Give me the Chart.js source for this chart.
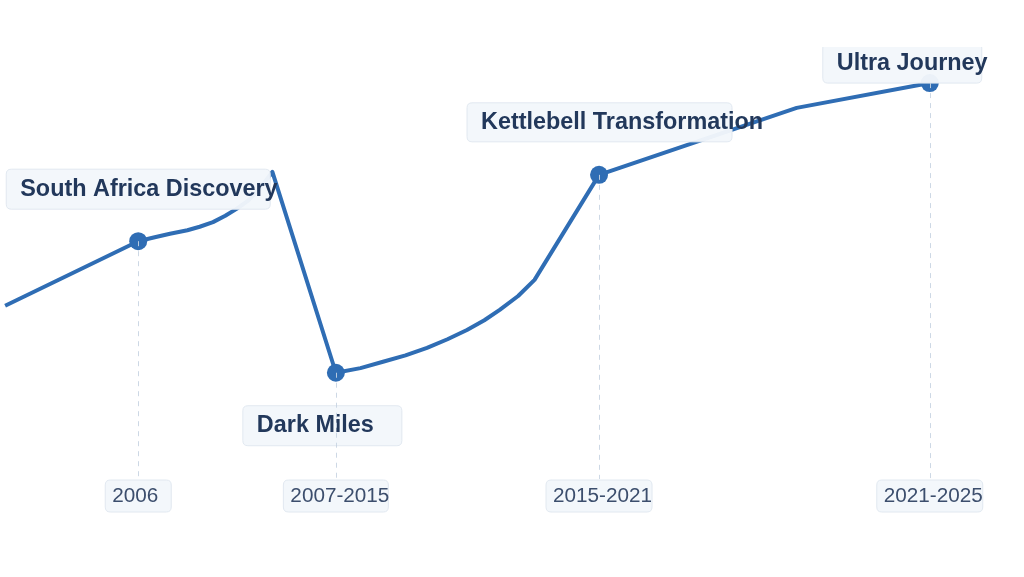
<!DOCTYPE html>
<html>
<head>
<meta charset="utf-8">
<script src="https://cdn.jsdelivr.net/npm/chart.js@4"></script>
<style>
  html, body { margin: 0; padding: 0; background: #ffffff; }
  #wrap { width: 1024px; height: 577px; }
</style>
</head>
<body>
<div id="wrap"><canvas id="journeyChart"></canvas></div>
<script>
// journey line (x: position along timeline 0-100, y: progress 0-100)
const lineX = [0.5, 13.5, 14.9, 16.6, 18.3, 19.5, 20.8, 22.0, 23.1, 24.2, 25.4, 26.6,
               32.8, 35.2, 37.4, 39.6, 41.7, 43.7, 45.6, 47.3, 48.8, 50.6, 52.2, 58.5, 77.8, 90.8];
const lineY = [47.0, 58.2, 58.8, 59.5, 60.1, 60.7, 61.5, 62.6, 63.8, 65.2, 67.4, 70.2,
               35.4, 36.2, 37.3, 38.4, 39.7, 41.2, 42.8, 44.5, 46.3, 48.7, 51.5, 69.7, 81.3, 85.6];

// milestones
const milestoneX = [13.5, 32.8, 58.5, 90.8];
const milestoneY = [58.2, 35.4, 69.7, 85.6];
const milestoneNames = ['South Africa Discovery', 'Dark Miles', 'Kettlebell Transformation', 'Ultra Journey'];
const periodLabels = ['2006', '2007-2015', '2015-2021', '2021-2025'];

// label box layout relative to marker (px)
const nameBoxes = [
    { dx: -132, dy: -72, w: 264, h: 40 },
    { dx: -93, dy: 33, w: 159, h: 40 },
    { dx: -132, dy: -72, w: 265, h: 39 },
    { dx: -107, dy: -40, w: 159, h: 40 }
];
const periodBoxW = [66, 105, 106, 106];

function roundBox(ctx, x, y, w, h, r) {
    ctx.beginPath();
    ctx.moveTo(x + r, y);
    ctx.lineTo(x + w - r, y);
    ctx.quadraticCurveTo(x + w, y, x + w, y + r);
    ctx.lineTo(x + w, y + h - r);
    ctx.quadraticCurveTo(x + w, y + h, x + w - r, y + h);
    ctx.lineTo(x + r, y + h);
    ctx.quadraticCurveTo(x, y + h, x, y + h - r);
    ctx.lineTo(x, y + r);
    ctx.quadraticCurveTo(x, y, x + r, y);
    ctx.closePath();
}

const timelineLabels = {
    id: 'timelineLabels',
    afterDatasetsDraw(chart) {
        const ctx = chart.ctx;
        const xs = chart.scales.x, ys = chart.scales.y;
        ctx.save();
        ctx.beginPath();
        ctx.rect(0, 47, chart.width, chart.height - 47);
        ctx.clip();

        // milestone name boxes
        milestoneNames.forEach((name, i) => {
            const mx = xs.getPixelForValue(milestoneX[i]);
            const my = ys.getPixelForValue(milestoneY[i]);
            const b = nameBoxes[i];
            const bx = mx + b.dx, by = my + b.dy;
            roundBox(ctx, bx, by, b.w, b.h, 5);
            ctx.fillStyle = 'rgba(243,247,251,0.96)';
            ctx.fill();
            ctx.strokeStyle = '#e1e8f0';
            ctx.lineWidth = 1;
            ctx.stroke();
            ctx.fillStyle = '#22385b';
            ctx.font = 'bold 23.4px "Liberation Sans", Arial, sans-serif';
            ctx.textBaseline = 'middle';
            ctx.textAlign = 'left';
            ctx.fillText(name, bx + 14, by + b.h / 2);
        });

        // period boxes on the timeline
        periodLabels.forEach((lab, i) => {
            const mx = xs.getPixelForValue(milestoneX[i]);
            const w = periodBoxW[i];
            const bx = mx - w / 2, by = 480;
            roundBox(ctx, bx, by, w, 32, 5);
            ctx.fillStyle = '#f3f7fb';
            ctx.fill();
            ctx.strokeStyle = '#e1e8f0';
            ctx.lineWidth = 1;
            ctx.stroke();
            ctx.fillStyle = '#3c4e6d';
            ctx.font = '20.7px "Liberation Sans", Arial, sans-serif';
            ctx.textBaseline = 'middle';
            ctx.textAlign = 'left';
            ctx.fillText(lab, bx + 7, by + 16);
        });

        // dashed guides from marker down to the period box
        ctx.setLineDash([5, 5]);
        ctx.strokeStyle = 'rgba(200,212,226,0.9)';
        ctx.lineWidth = 1;
        milestoneX.forEach((v, i) => {
            const mx = Math.round(xs.getPixelForValue(v)) + 0.5;
            const my = ys.getPixelForValue(milestoneY[i]);
            ctx.beginPath();
            ctx.moveTo(mx, my);
            ctx.lineTo(mx, 479);
            ctx.stroke();
        });
        ctx.restore();
    }
};

new Chart(document.getElementById('journeyChart'), {
    type: 'line',
    data: {
        datasets: [
            {
                label: 'Journey',
                data: lineX.map((x, i) => ({ x: x, y: lineY[i] })),
                borderColor: '#2f6db4',
                borderWidth: 4,
                borderJoinStyle: 'round',
                pointRadius: 0,
                tension: 0,
                fill: false
            },
            {
                label: 'Milestones',
                type: 'scatter',
                data: milestoneX.map((x, i) => ({ x: x, y: milestoneY[i] })),
                backgroundColor: '#2f6db4',
                borderColor: '#2f6db4',
                pointRadius: 9,
                borderWidth: 0
            }
        ]
    },
    options: {
        responsive: true,
        maintainAspectRatio: false,
        animation: false,
        layout: { padding: 0, autoPadding: false },
        plugins: { legend: { display: false }, tooltip: { enabled: false } },
        scales: {
            x: { type: 'linear', min: 0, max: 100, display: false },
            y: { min: 0, max: 100, display: false }
        }
    },
    plugins: [timelineLabels]
});
</script>
</body>
</html>
